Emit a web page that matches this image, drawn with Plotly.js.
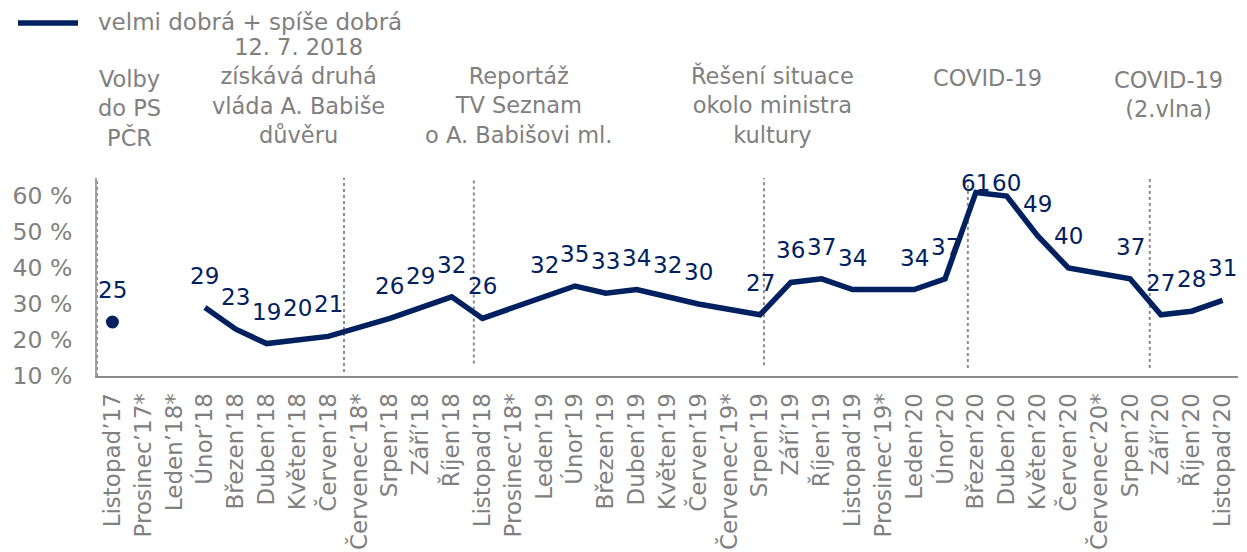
<!DOCTYPE html>
<html>
<head>
<meta charset="utf-8">
<script src="https://cdn.plot.ly/plotly-3.0.1.min.js"></script>
<style>
  html, body { margin: 0; padding: 0; background: #ffffff; }
  #chart { width: 1247px; height: 552px; }
</style>
</head>
<body>
<div id="chart"></div>
<script>
// ---- data ----
const categories = [
  "Listopad’17", "Prosinec’17*", "Leden’18*", "Únor’18", "Březen’18", "Duben’18",
  "Květen’18", "Červen’18", "Červenec’18*", "Srpen’18", "Září’18", "Říjen’18",
  "Listopad’18", "Prosinec’18*", "Leden’19", "Únor’19", "Březen’19", "Duben’19",
  "Květen’19", "Červen’19", "Červenec’19*", "Srpen’19", "Září’19", "Říjen’19",
  "Listopad’19", "Prosinec’19*", "Leden’20", "Únor’20", "Březen’20", "Duben’20",
  "Květen’20", "Červen’20", "Červenec’20*", "Srpen’20", "Září’20", "Říjen’20",
  "Listopad’20"
];
const values = [
  25, null, null, 29, 23, 19,
  20, 21, null, 26, 29, 32,
  26, null, 32, 35, 33, 34,
  32, 30, null, 27, 36, 37,
  34, null, 34, 37, 61, 60,
  49, 40, null, 37, 27, 28,
  31
];
const seriesName = "velmi dobrá + spíše dobrá";
const yTickVals = [10, 20, 30, 40, 50, 60];
const yTickText = ["10 %", "20 %", "30 %", "40 %", "50 %", "60 %"];

// events (text + position along the category axis)
const eventTexts = [
  "Volby<br>do PS<br>PČR",
  "12. 7. 2018<br>získává druhá<br>vláda A. Babiše<br>důvěru",
  "Reportáž<br>TV Seznam<br>o A. Babišovi ml.",
  "Řešení situace<br>okolo ministra<br>kultury",
  "COVID-19",
  "COVID-19<br>(2.vlna)"
];
const eventLineX = [-0.5, 7.51, 11.72, 21.13, 27.74, 33.64];
const eventLineTop = [72.2, 72.8, 72.2, 71.7, 89.4, 80.5];
const eventLineBottom = [10, 11.1, 13.5, 13, 12.2, 12.2];
const eventTextX = [0.55, 6.02, 13.18, 21.39, 28.39, 34.26];
const eventTextY = [1.126, 1.141, 1.142, 1.142, 1.429, 1.273];

// ---- styles ----
const NAVY = "#002060";
const GREY = "#808080";
const FONT = "DejaVu Sans, Verdana, sans-serif";
const Y_MIN = 10, Y_MAX = 65;
const M = { l: 97, r: 9, t: 178, b: 176 };
const W = 1247, H = 552;
const PLOT_W = W - M.l - M.r;
const PLOT_H = H - M.t - M.b;
const pxPerUnit = PLOT_H / (Y_MAX - Y_MIN);
const px2paperX = (px) => (px - M.l) / PLOT_W;
const px2paperY = (py) => (H - M.b - py) / PLOT_H;

const dotY = values.map((v, i) => (i === 0 ? v : null));
const lineY = values.map((v, i) => (i === 0 ? null : v));

const traces = [
  {
    type: "scatter", mode: "lines", x: categories, y: lineY,
    connectgaps: true, name: seriesName, showlegend: false,
    line: { color: NAVY, width: 5.5 },
    hoverinfo: "x+y"
  },
  {
    type: "scatter", mode: "markers", x: categories, y: dotY,
    showlegend: false, name: seriesName,
    marker: { color: NAVY, size: 13 },
    hoverinfo: "x+y"
  }
];

const annotations = [];
values.forEach((v, i) => {
  if (v === null) return;
  const maxShift = (Y_MAX - 1.4 - v) * pxPerUnit;
  annotations.push({
    x: i, y: v, xref: "x", yref: "y",
    text: String(v), showarrow: false,
    yanchor: "middle", xanchor: "center",
    yshift: Math.min(32, maxShift),
    font: { family: FONT, size: 23, color: NAVY }
  });
});
eventTexts.forEach((t, k) => {
  annotations.push({
    x: eventTextX[k], y: eventTextY[k], xref: "x", yref: "paper",
    text: t, showarrow: false, xanchor: "center", yanchor: "bottom",
    align: "center",
    font: { family: FONT, size: 22.5, color: GREY }
  });
});
// legend (drawn as a line sample + label)
annotations.push({
  x: px2paperX(96), y: px2paperY(22), xref: "paper", yref: "paper",
  text: seriesName, showarrow: false, xanchor: "left", yanchor: "middle",
  font: { family: FONT, size: 23, color: GREY }
});

const shapes = eventLineX.map((x, k) => ({
  type: "line", xref: "x", yref: "y",
  x0: x, x1: x, y0: eventLineBottom[k], y1: eventLineTop[k],
  line: { color: "#8c8c8c", width: 2, dash: "dot" },
  layer: "below"
}));
shapes.push({
  type: "line", xref: "paper", yref: "paper",
  x0: px2paperX(18), x1: px2paperX(78), y0: px2paperY(23), y1: px2paperY(23),
  line: { color: NAVY, width: 5.5 }
});

const layout = {
  width: W, height: H,
  margin: M,
  paper_bgcolor: "#ffffff", plot_bgcolor: "#ffffff",
  font: { family: FONT, size: 23, color: GREY },
  showlegend: false,
  xaxis: {
    type: "category", categoryorder: "array", categoryarray: categories,
    range: [-0.5, categories.length - 0.5],
    tickangle: -90, ticks: "", showgrid: false, zeroline: false,
    showline: true, linecolor: "#8c8c8c", linewidth: 2,
    tickfont: { family: FONT, size: 23, color: GREY },
    ticklabelstandoff: 6,
    automargin: false, fixedrange: true
  },
  yaxis: {
    range: [Y_MIN, Y_MAX], tickvals: yTickVals, ticktext: yTickText,
    ticks: "", showgrid: false, zeroline: false,
    showline: true, linecolor: "#a0a0a0", linewidth: 2,
    tickfont: { family: FONT, size: 23.5, color: GREY },
    ticklabelstandoff: 18,
    automargin: false, fixedrange: true
  },
  annotations: annotations,
  shapes: shapes
};

Plotly.newPlot("chart", traces, layout, { displayModeBar: false, staticPlot: true });
</script>
</body>
</html>
